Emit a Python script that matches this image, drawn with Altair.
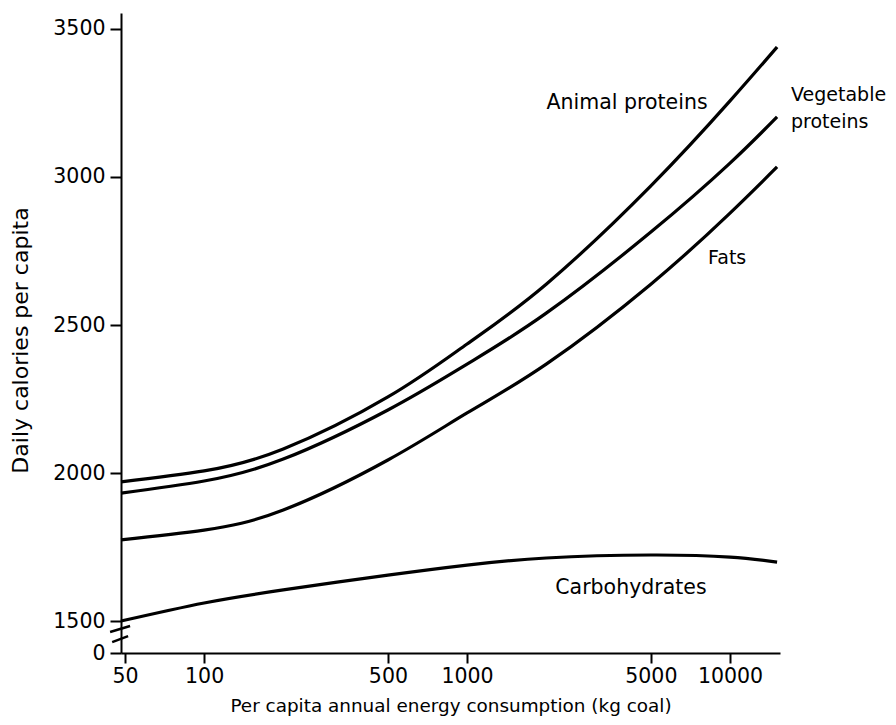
import altair as alt
import pandas as pd

# Per capita annual energy consumption (kg coal)
energy = [48.3, 100, 200, 500, 1000, 2000, 5000, 10000, 15100]
animal = [1970, 2007, 2081, 2257, 2436, 2638, 2970, 3257, 3439]
vegetable = [1932, 1973, 2047, 2213, 2368, 2540, 2814, 3047, 3203]
fats = [1774, 1807, 1875, 2044, 2203, 2368, 2638, 2878, 3034]
carbs = [1500, 1561, 1605, 1655, 1689, 1713, 1723, 1716, 1699]
series_names = ["Animal proteins", "Vegetable proteins", "Fats", "Carbohydrates"]

x_ticks = [50, 100, 500, 1000, 5000, 10000]
y_ticks = [1392, 1500, 2000, 2500, 3000, 3500]
x_domain = [48.3, 15490]
y_domain = [1392, 3554]

# curve labels
center_labels = ["Animal proteins", "Carbohydrates"]
center_x = [4060, 4200]
center_y = [3250, 1611]
left_labels = ["Vegetable\nproteins", "Fats"]
left_x = [17060, 8250]
left_y = [3277, 2726]

# axis-break slashes
break_x = [43.9, 44.7]
break_x2 = [52.3, 51.4]
break_y = [1463, 1429]
break_y2 = [1483, 1449]

FONT = "DejaVu Sans"

rows = []
for name, vals in zip(series_names, [animal, vegetable, fats, carbs]):
    for e, v in zip(energy, vals):
        rows.append({"series": name, "energy": e, "cal": v})
df = pd.DataFrame(rows)

xs = alt.Scale(type="log", domain=x_domain, nice=False)
ys = alt.Scale(type="linear", domain=y_domain, nice=False, zero=False)

x_axis = alt.Axis(
    values=x_ticks, format="d", title="Per capita annual energy consumption (kg coal)",
    grid=False, domainColor="black", domainWidth=2, tickColor="black", tickWidth=2,
    tickSize=10, labelPadding=3, labelFont=FONT, labelFontSize=20.5, labelColor="black",
    titleFont=FONT, titleFontSize=18.4, titleFontWeight="normal", titleColor="black",
    titleY=52, titleBaseline="middle",
)
y_axis = alt.Axis(
    values=y_ticks, format="d", labelExpr="datum.value < 1450 ? '0' : datum.label",
    title="Daily calories per capita",
    grid=False, domainColor="black", domainWidth=2, tickColor="black", tickWidth=2,
    tickSize=11, labelPadding=5, labelFont=FONT, labelFontSize=20.5, labelColor="black",
    titleFont=FONT, titleFontSize=22, titleFontWeight="normal", titleColor="black",
    titleX=-101, titleY=327, titleBaseline="middle",
)

lines = alt.Chart(df).mark_line(color="black", strokeWidth=3.2, interpolate="natural").encode(
    x=alt.X("energy:Q", scale=xs, axis=x_axis),
    y=alt.Y("cal:Q", scale=ys, axis=y_axis),
    detail="series:N",
)

cdf = pd.DataFrame({"t": center_labels, "x": center_x, "y": center_y})
ctext = alt.Chart(cdf).mark_text(font=FONT, fontSize=20.5, align="center", baseline="middle", color="black").encode(
    x=alt.X("x:Q", scale=xs), y=alt.Y("y:Q", scale=ys), text="t:N")

ldf = pd.DataFrame({"t": left_labels, "x": left_x, "y": left_y})
ltext = alt.Chart(ldf).mark_text(font=FONT, fontSize=19, align="left", baseline="middle", color="black",
                                 lineBreak="\n", lineHeight=27).encode(
    x=alt.X("x:Q", scale=xs), y=alt.Y("y:Q", scale=ys), text="t:N")

bdf = pd.DataFrame({"x": break_x, "x2": break_x2, "y": break_y, "y2": break_y2})
breaks = alt.Chart(bdf).mark_rule(color="black", strokeWidth=2.5).encode(
    x=alt.X("x:Q", scale=xs), x2="x2:Q", y=alt.Y("y:Q", scale=ys), y2="y2:Q")

chart = alt.layer(lines, ctext, ltext, breaks).properties(
    width=659, height=640,
    autosize=alt.AutoSizeParams(type="none"),
    padding={"left": 113, "top": 5, "right": 108, "bottom": 64},
    background="white",
).configure_view(stroke=None)

chart.save("out.html", embed_options={"renderer": "svg", "actions": False})
